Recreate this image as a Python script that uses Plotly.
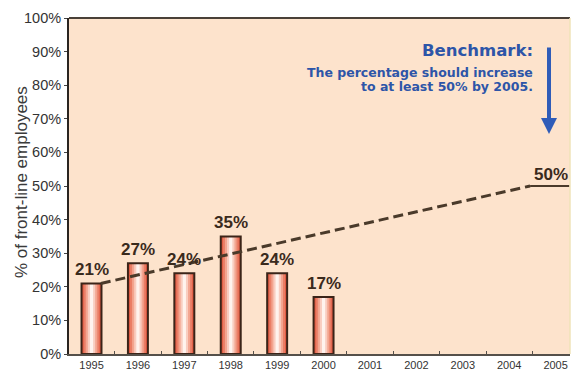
import plotly.graph_objects as go

# Share of front-line employees by year, with a benchmark trend to 2005
years = [1995, 1996, 1997, 1998, 1999, 2000]
share = [21, 27, 24, 35, 24, 17]
axis_years = list(range(1995, 2006))
trend_x = [1995.2, 2004.45]
trend_y = [21, 50]
target_x = [2004.45, 2005.3]
target_y = [50, 50]
target_label = "50%"
y_ticks = list(range(0, 101, 10))
y_title = "% of front-line employees"

W, H = 575, 372
L, R, T, B = 69, 5, 18, 18
pw, ph = W - L - R, H - T - B


def px_x(px):
    return (px - L) / pw


def px_y(py):
    return 1 - (py - T) / ph


fig = go.Figure()

# Layered bars give a rounded, shaded look (dark edges, pale centre)
layers = [
    (0.43, "#e05a42"),
    (0.34, "#ea7e66"),
    (0.25, "#f3a590"),
    (0.16, "#f9cdc0"),
    (0.07, "#fff3ee"),
]
for w, c in layers:
    fig.add_trace(go.Bar(
        x=years, y=share, width=w,
        marker=dict(color=c, line=dict(width=0)),
        hoverinfo="skip", showlegend=False,
    ))
# Outline on top
fig.add_trace(go.Bar(
    x=years, y=share, width=0.43,
    marker=dict(color="rgba(0,0,0,0)", line=dict(color="#3b2418", width=2)),
    showlegend=False,
))

# Dashed trend toward the benchmark
fig.add_trace(go.Scatter(
    x=trend_x, y=trend_y, mode="lines",
    line=dict(color="#4a3a2a", width=3, dash="10px,5px"),
    showlegend=False, hoverinfo="skip",
))
fig.add_trace(go.Scatter(
    x=target_x, y=target_y, mode="lines",
    line=dict(color="#4a3a2a", width=2),
    showlegend=False, hoverinfo="skip",
))

label_font = dict(family="Liberation Sans, Arial, sans-serif", size=17, color="#3a2a1c")
annotations = []
for x, v in zip(years, share):
    annotations.append(dict(
        x=x, y=v, xref="x", yref="y", text=f"<b>{v}%</b>",
        showarrow=False, yanchor="bottom", yshift=2, font=label_font,
    ))
annotations.append(dict(
    x=2004.9, y=target_y[1], xref="x", yref="y", text=f"<b>{target_label}</b>",
    showarrow=False, yanchor="bottom", yshift=0, font=label_font,
))

blue = "#2d55a8"
for py, txt, size in [
    (50, "<b>Benchmark:</b>", 16.5),
    (72, "<b>The percentage should increase</b>", 12.5),
    (87, "<b>to at least 50% by 2005.</b>", 12.5),
]:
    annotations.append(dict(
        x=px_x(535), y=px_y(py), xref="paper", yref="paper", text=txt,
        showarrow=False, xanchor="right", yanchor="middle",
        font=dict(family="DejaVu Sans, sans-serif", size=size, color=blue),
    ))

# Downward benchmark arrow
annotations.append(dict(
    x=px_x(549), y=px_y(134), xref="paper", yref="paper",
    ax=0, ay=-88, axref="pixel", ayref="pixel",
    text="", showarrow=True, arrowhead=2, arrowsize=0.8, arrowwidth=4,
    arrowcolor="#2f5cb8",
))

# Vertical axis title
annotations.append(dict(
    x=px_x(21), y=px_y(182), xref="paper", yref="paper", text=y_title,
    textangle=-90, showarrow=False, xanchor="center", yanchor="middle",
    font=dict(family="Liberation Sans, Arial, sans-serif", size=17, color="#3a3a3a"),
))

fig.update_layout(
    width=W, height=H,
    margin=dict(l=L, r=R, t=T, b=B, autoexpand=False),
    paper_bgcolor="white",
    plot_bgcolor="#fde3cc",
    barmode="overlay",
    annotations=annotations,
    font=dict(family="Liberation Sans, Arial, sans-serif", color="#333333"),
    shapes=[dict(type="line", xref="paper", yref="paper", x0=0, x1=1, y0=1, y1=1,
                 line=dict(color="#4a4038", width=2)),
            dict(type="line", xref="paper", yref="paper", x0=1, x1=1, y0=0, y1=1,
                 line=dict(color="#efe3b8", width=1.5))],
)
fig.update_xaxes(
    range=[1994.515, 2005.31], automargin=False,
    tickvals=axis_years, ticktext=[str(y) for y in axis_years],
    ticks="", showgrid=False, zeroline=False,
    showline=True, linecolor="#55504a", linewidth=1.5,
    tickfont=dict(size=11, color="#333333"),
    ticklabelstandoff=0,
    minor=dict(tick0=1994.5, dtick=1, ticks="inside", ticklen=3, tickcolor="#55504a", showgrid=False),
)
fig.update_yaxes(
    range=[0, 100], automargin=False,
    tickvals=y_ticks, ticktext=[f"{v}%" for v in y_ticks],
    ticks="outside", ticklen=3, tickcolor="#444444",
    showgrid=False, zeroline=False,
    showline=True, linecolor="#2a2420", linewidth=2,
    tickfont=dict(size=14.5, color="#333333"),
)

fig.write_html("out.html")
